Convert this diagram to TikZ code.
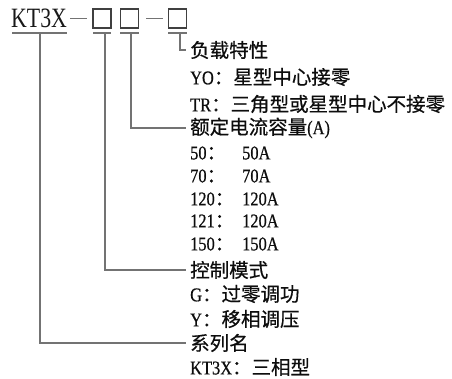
\documentclass[tikz,border=0pt]{standalone}
\usepackage{fontspec}
\setmainfont{Liberation Serif}[FakeStretch=0.84,FakeBold=0.6]
\newfontfamily\cjk{Noto Sans CJK SC}[FakeBold=0.6]
\newfontfamily\titlefont{Liberation Serif}[FakeStretch=0.78]
\begin{document}
\begin{tikzpicture}[x=1pt,y=-1pt,
  lbl/.style={anchor=west,inner xsep=4pt,inner ysep=0pt,font=\fontsize{19.5}{19.5}\selectfont,text=black!95},
  box/.style={draw=black!75,line width=1.1pt,minimum width=18pt,minimum height=19pt,inner sep=0pt},
  conn/.style={draw=black!55,line width=1.1pt},
  ttl/.style={inner sep=0pt,anchor=base west,font=\titlefont\fontsize{28}{28}\selectfont,text=black!90}]
\useasboundingbox (0,0) rectangle (452,379);
% title row
\node[ttl] (kt) at (11,28) {KT3X};
\node[box] (b1) at (102,18.5) {};
\node[box] (b2) at (129.5,18.5) {};
\node[box] (b3) at (177.5,18.5) {};
\draw[conn] ([xshift=3pt]kt.east |- b1.west) -- ([xshift=-5pt]b1.west);
\draw[conn] ([xshift=7pt]b2.east) -- ([xshift=-5pt]b3.west);
% underlines
\coordinate (u0a) at (12,33); \coordinate (u0b) at (67,33);
\coordinate (u1a) at (93,33); \coordinate (u1b) at (111,33);
\coordinate (u2a) at (120,33); \coordinate (u2b) at (139,33);
\coordinate (u3a) at (168,33); \coordinate (u3b) at (187,33);
\draw[conn] (u0a) -- (u0b);
\draw[conn] (u1a) -- (u1b);
\draw[conn] (u2a) -- (u2b);
\draw[conn] (u3a) -- (u3b);
\coordinate (v0) at (40,33);
\coordinate (v1) at (105,33);
\coordinate (v2) at (131,33);
\coordinate (v3) at (180,33);
% labels
\node[lbl] (load) at (186,50) {\cjk 负载特性};
\node[lbl] (yo) at (186,77) {YO\cjk：星型中心接零};
\node[lbl] (tr) at (186,104) {TR\cjk：三角型或星型中心不接零};
\node[lbl] (cur) at (186,128) {\cjk 额定电流容量\normalfont(A)};
\node[lbl] (c50) at (186,153) {\makebox[52pt][l]{50\cjk：}50A};
\node[lbl] (c70) at (186,176) {\makebox[52pt][l]{70\cjk：}70A};
\node[lbl] (c120) at (186,199) {\makebox[52pt][l]{120\cjk：}120A};
\node[lbl] (c121) at (186,221) {\makebox[52pt][l]{121\cjk：}120A};
\node[lbl] (c150) at (186,244) {\makebox[52pt][l]{150\cjk：}150A};
\node[lbl] (ctl) at (186,270) {\cjk 控制模式};
\node[lbl] (g) at (186,294) {G\cjk：过零调功};
\node[lbl] (y) at (186,319) {Y\cjk：移相调压};
\node[lbl] (sys) at (186,343) {\cjk 系列名};
\node[lbl] (kt3x) at (186,367) {KT3X\cjk：三相型};
% connectors
\draw[conn] (v0) |- (sys.west);
\draw[conn] (v1) |- (ctl.west);
\draw[conn] (v2) |- (cur.west);
\draw[conn] (v3) |- (load.west);
\end{tikzpicture}
\end{document}
